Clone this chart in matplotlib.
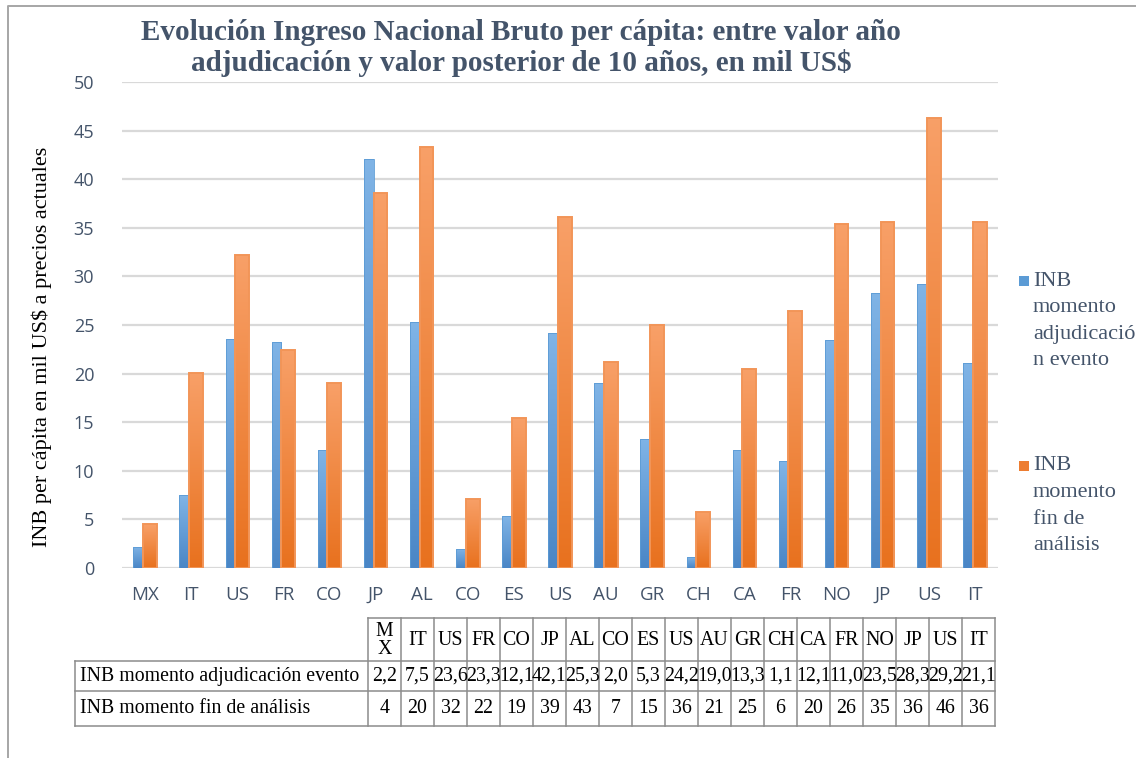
import matplotlib
matplotlib.use("Agg")
import matplotlib.pyplot as plt
import numpy as np
from matplotlib.patches import Rectangle
from matplotlib.lines import Line2D

# ---------------- data ----------------
categories = ["MX", "IT", "US", "FR", "CO", "JP", "AL", "CO", "ES", "US",
              "AU", "GR", "CH", "CA", "FR", "NO", "JP", "US", "IT"]
adjudicacion = [2.2, 7.5, 23.6, 23.3, 12.1, 42.1, 25.3, 2.0, 5.3, 24.2,
                19.0, 13.3, 1.1, 12.1, 11.0, 23.5, 28.3, 29.2, 21.1]
fin_analisis = [4.5, 20.1, 32.2, 22.4, 19.0, 38.6, 43.3, 7.1, 15.4, 36.1,
                21.2, 25.0, 5.8, 20.5, 26.4, 35.4, 35.6, 46.3, 35.6]
table_header = ["M\nX", "IT", "US", "FR", "CO", "JP", "AL", "CO", "ES", "US",
                "AU", "GR", "CH", "CA", "FR", "NO", "JP", "US", "IT"]
table_adj = ["2,2", "7,5", "23,6", "23,3", "12,1", "42,1", "25,3", "2,0", "5,3", "24,2",
             "19,0", "13,3", "1,1", "12,1", "11,0", "23,5", "28,3", "29,2", "21,1"]
table_fin = ["4", "20", "32", "22", "19", "39", "43", "7", "15", "36",
             "21", "25", "6", "20", "26", "35", "36", "46", "36"]
series_names = ["INB momento adjudicación evento", "INB momento fin de análisis"]
legend_lines = [["INB", "momento", "adjudicació", "n evento"],
                ["INB", "momento", "fin de", "análisis"]]
title = "Evolución Ingreso Nacional Bruto per cápita: entre valor año\nadjudicación y valor posterior de 10 años, en mil US$"
ylabel = "INB per cápita en mil US$ a precios actuales"

W, H = 1136, 758
fig = plt.figure(figsize=(W / 100, H / 100), dpi=100)
fig.patch.set_facecolor("white")

SERIF = ["Liberation Serif", "DejaVu Serif"]
SANS = ["Open Sans", "DejaVu Sans"]
TXT = "#44546a"
BLUE = "#5b9bd5"
ORANGE = "#ed7d31"

def fx(px):
    return px / W

def fy(py):
    return 1 - py / H

# main axes
x0, x1 = 122, 998
y0, y1 = 82, 568
ax = fig.add_axes([fx(x0), fy(y1), fx(x1) - fx(x0), (y1 - y0) / H])
ax.set_xlim(-0.5, len(categories) - 0.5)
ax.set_ylim(0, 50)
ax.set_yticks(np.arange(0, 51, 5))
ax.yaxis.grid(True, color="#d9d9d9", linewidth=1.6)
ax.set_axisbelow(True)
for s in ax.spines.values():
    s.set_visible(False)
ax.tick_params(axis="both", length=0, colors=TXT)
ax.tick_params(axis="y", pad=20, labelsize=13)
ax.tick_params(axis="x", pad=13, labelsize=13.5)
for lab in ax.get_yticklabels() + ax.get_xticklabels():
    lab.set_family(SANS)
    lab.set_color(TXT)

x = np.arange(len(categories))
ax.set_xticks(x)
ax.set_xticklabels(categories)
for lab in ax.get_xticklabels():
    lab.set_family(SANS)
    lab.set_color(TXT)


def grad_bars(bars, top, bottom):
    cmap = matplotlib.colors.LinearSegmentedColormap.from_list("g", [bottom, top])
    grad = np.linspace(0, 1, 256).reshape(-1, 1)
    for b in bars:
        bx, by = b.get_x(), b.get_y()
        bw, bh = b.get_width(), b.get_height()
        im = ax.imshow(grad, cmap=cmap, aspect="auto", origin="lower",
                       extent=[bx, bx + bw, by, by + bh], zorder=b.get_zorder() - 0.01)
        im.set_clip_path(b)
    ax.set_xlim(-0.5, len(categories) - 0.5)
    ax.set_ylim(0, 50)


b1 = ax.bar(x - 0.15, adjudicacion, width=0.21, color=BLUE, zorder=3,
            edgecolor="#5b9bd5", linewidth=0.6)
grad_bars(b1, "#80b4e6", "#4a86c6")
b2 = ax.bar(x + 0.105, fin_analisis, width=0.30, color=ORANGE, zorder=4,
            edgecolor="#f29558", linewidth=1.4)
grad_bars(b2, "#f8a068", "#e8711e")
for b in list(b1) + list(b2):
    b.set_facecolor("none")

# overlay axes in pixel coords
ov = fig.add_axes([0, 0, 1, 1], zorder=10)
ov.set_xlim(0, W)
ov.set_ylim(H, 0)
ov.axis("off")
ov.patch.set_alpha(0)

# frame
ov.add_line(Line2D([7.5, 7.5, W], [H, 5.5, 5.5], color="#a6a6a6", lw=1.4))

# title
ov.text(521, 48, title, ha="center", va="center", fontsize=21, fontweight="bold",
        family=SERIF, color=TXT, linespacing=1.1)

# y label
ov.text(42, 347, ylabel, ha="center", va="center", rotation=90, fontsize=16,
        family=SERIF, color="black")

# legend (manual)
leg_colors = [BLUE, ORANGE]
leg_y = [281, 466]
for lines, c, ly in zip(legend_lines, leg_colors, leg_y):
    ov.add_patch(Rectangle((1019, ly - 5), 10, 10, color=c, lw=0))
    for i, t in enumerate(lines):
        ov.text(1033, ly + i * 26.5, t, ha="left", va="center", fontsize=16,
                family=SERIF, color=TXT)

# table
tl, tlab_r, tr = 75, 368, 995
r0, r1, r2, r3 = 618, 661, 691, 726
n = len(categories)
cw = (tr - tlab_r) / n
gc = "#8c8c8c"
lw = 1.1
ov.add_line(Line2D([tlab_r, tr], [r0, r0], color=gc, lw=lw))
for yy in (r1, r2, r3):
    ov.add_line(Line2D([tl, tr], [yy, yy], color=gc, lw=lw))
ov.add_line(Line2D([tl, tl], [r1, r3], color=gc, lw=lw))
for i in range(n + 1):
    xx = tlab_r + i * cw
    ov.add_line(Line2D([xx, xx], [r0, r3], color=gc, lw=lw))
fs_t = 14.3
ov.text(tl + 5, (r1 + r2) / 2, series_names[0], ha="left", va="center",
        fontsize=fs_t, family=SERIF, color="black")
ov.text(tl + 5, (r2 + r3) / 2, series_names[1], ha="left", va="center",
        fontsize=fs_t, family=SERIF, color="black")
for i in range(n):
    cx = tlab_r + (i + 0.5) * cw
    ov.text(cx, (r0 + r1) / 2 + 1, table_header[i], ha="center", va="center",
            fontsize=fs_t, family=SERIF, color="black", linespacing=0.9)
    ov.text(cx, (r1 + r2) / 2, table_adj[i], ha="center", va="center",
            fontsize=fs_t, family=SERIF, color="black")
    ov.text(cx, (r2 + r3) / 2, table_fin[i], ha="center", va="center",
            fontsize=fs_t, family=SERIF, color="black")

fig.savefig("out.png", dpi=100)
